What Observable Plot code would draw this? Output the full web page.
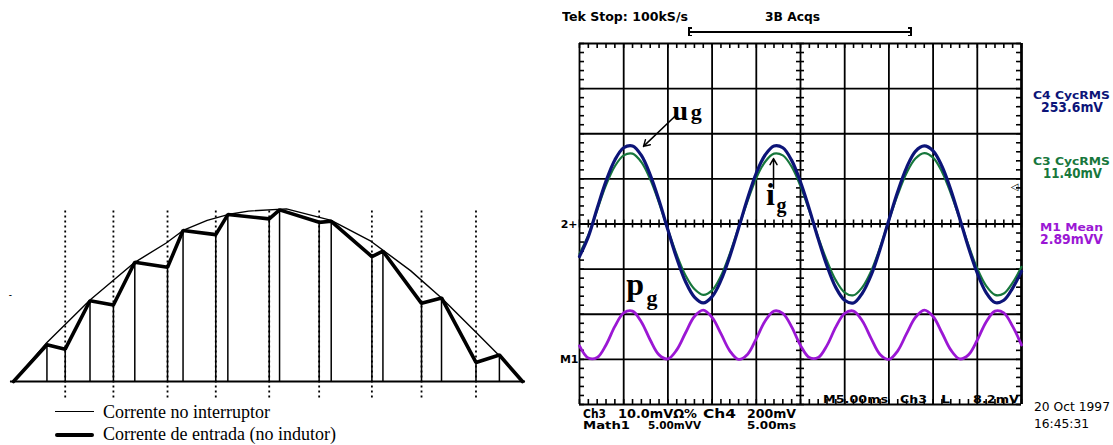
<!DOCTYPE html>
<html><head><meta charset="utf-8">
<script src="https://cdn.jsdelivr.net/npm/d3@7"></script>
<script src="https://cdn.jsdelivr.net/npm/@observablehq/plot@0.6"></script>
<style>
html,body{margin:0;padding:0;background:#fff;}
#root{position:relative;width:1113px;height:445px;overflow:hidden;background:#fff;}
#root svg{position:absolute;top:0;}
.t{position:absolute;white-space:pre;line-height:1;}
.bar{position:absolute;background:#000;}
</style></head><body><div id="root"></div>
<script>
// ===== Left figure: normalized time (0–100) and normalized current (0–1)
const thinX  = [0, 6.57, 15.03, 23.83, 29.93, 33.31, 38.05, 42.11, 46.17, 53.62, 62.42, 70.21, 78.0, 84.09, 90.86, 95.46, 100];
const thinY  = [0, 0.226, 0.471, 0.689, 0.799, 0.873, 0.931, 0.965, 0.985, 0.998, 0.931, 0.811, 0.641, 0.483, 0.284, 0.149, 0];
const thickX = [0, 6.57, 10.16, 15.03, 19.63, 23.83, 30.26, 33.31, 39.74, 42.11, 50.24, 52.27, 60.05, 62.42, 70.41, 72.58, 80.16, 84.09, 90.86, 95.46, 100];
const thickY = [0, 0.212, 0.187, 0.467, 0.442, 0.689, 0.660, 0.873, 0.849, 0.965, 0.940, 0.992, 0.920, 0.926, 0.722, 0.753, 0.452, 0.483, 0.110, 0.153, 0];
const switchX = [10.16, 19.63, 30.26, 39.74, 50.24, 60.05, 70.41, 80.16, 90.86];

// ===== Oscilloscope: time (ms) and screen divisions
const timeMs = [0,1,2,3,4,5,6,7,8,9,10,11,12,13,14,15,16,17,18,19,20,21,22,23,24,25,26,27,28,29,30,31,32,33,34,35,36,37,38,39,40,41,42,43,44,45,46,47,48,49,50];
const ugC4 = [-0.72,-0.28,0.35,0.95,1.42,1.69,1.73,1.52,1.09,0.52,-0.13,-0.76,-1.28,-1.62,-1.75,-1.61,-1.25,-0.72,-0.09,0.56,1.13,1.53,1.73,1.69,1.41,0.93,0.33,-0.33,-0.93,-1.41,-1.69,-1.75,-1.53,-1.13,-0.56,0.09,0.72,1.25,1.61,1.73,1.62,1.28,0.76,0.13,-0.52,-1.09,-1.52,-1.74,-1.69,-1.42,-1.05];
const igC3 = [-0.66,-0.25,0.31,0.86,1.28,1.52,1.56,1.37,0.99,0.47,-0.12,-0.68,-1.14,-1.44,-1.57,-1.47,-1.15,-0.66,-0.08,0.50,1.02,1.38,1.56,1.52,1.27,0.84,0.29,-0.29,-0.82,-1.25,-1.52,-1.58,-1.40,-1.04,-0.52,0.08,0.65,1.13,1.45,1.57,1.47,1.16,0.68,0.12,-0.47,-0.99,-1.37,-1.57,-1.54,-1.30,-0.95];
const pgM1 = [-2.70,-2.97,-2.96,-2.68,-2.27,-1.97,-1.93,-2.17,-2.57,-2.90,-2.99,-2.79,-2.41,-2.05,-1.91,-2.07,-2.43,-2.81,-3.00,-2.89,-2.54,-2.15,-1.93,-1.98,-2.28,-2.69,-2.96,-2.96,-2.69,-2.28,-1.98,-1.93,-2.15,-2.54,-2.89,-3.00,-2.81,-2.43,-2.07,-1.91,-2.05,-2.41,-2.79,-2.99,-2.90,-2.57,-2.17,-1.93,-1.97,-2.27,-2.68];
const majorT = [0,5,10,15,20,25,30,35,40,45,50];
const majorV = [-4,-3,-2,-1,0,1,2,3,4];
const minorT = d3.range(0, 50.001, 1);
const minorV = d3.range(-4, 4.001, 0.2);

const BLUE = "#0c1478", GREEN = "#17773c", PURPLE = "#9b17d4";
const SERIF = "Liberation Serif, Times New Roman, serif";
const TEK = "DejaVu Sans, sans-serif";

const root = document.getElementById("root");

// ---------- Left figure
const thin = thinX.map((x, i) => ({x, y: thinY[i]}));
const thick = thickX.map((x, i) => ({x, y: thickY[i]}));
const verts = thick.slice(1, -1);

const left = Plot.plot({
  width: 540, height: 445,
  marginLeft: 13, marginRight: 18, marginTop: 208, marginBottom: 64,
  x: {domain: [0, 100], axis: null},
  y: {domain: [0, 1], axis: null},
  style: {background: "none", overflow: "visible"},
  marks: [
    Plot.ruleX(switchX, {y1: -0.095, y2: 1.0, stroke: "#000", strokeWidth: 1.8, strokeDasharray: "2,3"}),
    Plot.ruleX(verts, {x: "x", y1: 0, y2: "y", stroke: "#000", strokeWidth: 1.5}),
    Plot.ruleY([0], {x1: -0.6, x2: 100.6, stroke: "#000", strokeWidth: 2}),
    Plot.line(thin, {x: "x", y: "y", stroke: "#000", strokeWidth: 1.4}),
    Plot.line(thick, {x: "x", y: "y", stroke: "#000", strokeWidth: 3.6, strokeLinejoin: "miter"}),
    Plot.text(["-"], {x: -0.6, y: 0.5, fontSize: 10, fill: "#000"})
  ]
});
left.style.left = "0px";
root.appendChild(left);

// ---------- Oscilloscope
const c4 = timeMs.map((t, i) => ({t, v: ugC4[i]}));
const c3 = timeMs.map((t, i) => ({t, v: igC3[i]}));
const m1 = timeMs.map((t, i) => ({t, v: pgM1[i]}));

const osc = Plot.plot({
  width: 553, height: 445,
  marginLeft: 19, marginRight: 92, marginTop: 43, marginBottom: 41,
  x: {domain: [0, 50], axis: null},
  y: {domain: [-4, 4], axis: null},
  style: {background: "none", overflow: "visible"},
  marks: [
    Plot.ruleX(majorT, {stroke: "#000", strokeWidth: 1.8}),
    Plot.ruleY(majorV, {stroke: "#000", strokeWidth: 1.8}),
    Plot.ruleX([50], {stroke: "#000", strokeWidth: 2.6}),
    // minor ticks along centre lines and borders
    Plot.ruleX(minorT, {y1: 0, y2: 0, insetTop: -4, insetBottom: -4, stroke: "#000", strokeWidth: 1.6}),
    Plot.ruleX(minorT, {y1: 4, y2: 4, insetTop: 0, insetBottom: -5, stroke: "#000", strokeWidth: 1.6}),
    Plot.ruleX(minorT, {y1: -4, y2: -4, insetTop: -5, insetBottom: 0, stroke: "#000", strokeWidth: 1.6}),
    Plot.ruleY(minorV, {x1: 25, x2: 25, insetLeft: -4, insetRight: -4, stroke: "#000", strokeWidth: 1.6}),
    Plot.ruleY(minorV, {x1: 0, x2: 0, insetLeft: 0, insetRight: -5, stroke: "#000", strokeWidth: 1.6}),
    Plot.ruleY(minorV, {x1: 50, x2: 50, insetLeft: -5, insetRight: 0, stroke: "#000", strokeWidth: 1.6}),
    // traces
    Plot.line(c3, {x: "t", y: "v", stroke: GREEN, strokeWidth: 2.2, curve: "catmull-rom"}),
    Plot.line(c4, {x: "t", y: "v", stroke: BLUE, strokeWidth: 3.2, curve: "catmull-rom"}),
    Plot.line(m1, {x: "t", y: "v", stroke: PURPLE, strokeWidth: 2.8, curve: "catmull-rom"}),
    // screen markers
    Plot.text(["2+"], {x: 0, y: 0, textAnchor: "end", dx: -2, fontSize: 11, fontWeight: "bold", fontFamily: TEK, fill: "#000"}),
    Plot.text(["M1"], {x: 0, y: -3, textAnchor: "end", dx: -1, fontSize: 11, fontWeight: "bold", fontFamily: TEK, fill: "#000"}),
    Plot.text(["◁"], {x: 50, y: 0.83, textAnchor: "end", dx: -3, fontSize: 10, fontWeight: "bold", fontFamily: TEK, fill: "#000"}),
    // annotations
    Plot.arrow([0], {x1: 10.86, y1: 2.40, x2: 7.24, y2: 1.72, stroke: "#000", strokeWidth: 1.5, headLength: 7}),
    Plot.arrow([0], {x1: 21.95, y1: 0.79, x2: 21.95, y2: 1.45, stroke: "#000", strokeWidth: 1.5, headLength: 7}),
    Plot.text(["u"], {x: 11.4, y: 2.50, fontSize: 28, fontWeight: "bold", fontFamily: SERIF, fill: "#000"}),
    Plot.text(["g"], {x: 13.2, y: 2.48, fontSize: 22, fontWeight: "bold", fontFamily: SERIF, fill: "#000"}),
    Plot.text(["i"], {x: 21.6, y: 0.64, fontSize: 32, fontWeight: "bold", fontFamily: SERIF, fill: "#000"}),
    Plot.text(["g"], {x: 22.85, y: 0.40, fontSize: 20, fontWeight: "bold", fontFamily: SERIF, fill: "#000"}),
    Plot.text(["p"], {x: 6.3, y: -1.35, fontSize: 32, fontWeight: "bold", fontFamily: SERIF, fill: "#000"}),
    Plot.text(["g"], {x: 8.2, y: -1.64, fontSize: 22, fontWeight: "bold", fontFamily: SERIF, fill: "#000"})
  ]
});
osc.style.left = "560px";
root.appendChild(osc);

// ---------- HTML text helpers
function put(txt, left, baseline, o) {
  const fs = o.size, asc = 0.845 * fs;
  const s = document.createElement("span");
  s.className = "t";
  s.textContent = txt;
  Object.assign(s.style, {
    fontSize: fs + "px", fontFamily: o.family || TEK, fontWeight: o.weight || "normal",
    color: o.color || "#000", left: left + "px", top: (baseline - asc) + "px",
    transformOrigin: `0px ${asc}px`
  });
  root.appendChild(s);
  const w = s.getBoundingClientRect().width;
  const sx = o.width ? o.width / w : 1;
  if (o.center !== undefined) s.style.left = (o.center - (o.width || w) / 2) + "px";
  s.style.transform = `scale(${sx}, ${o.sy || 1})`;
  return s;
}
function bar(l, t, w, h) {
  const d = document.createElement("div");
  d.className = "bar";
  Object.assign(d.style, {left: l + "px", top: t + "px", width: w + "px", height: h + "px"});
  root.appendChild(d);
}

const B = "bold";
// Oscilloscope header
put("Tek Stop: 100kS/s", 562, 21.5, {size: 11.5, weight: B, width: 126});
put("3B Acqs", 765, 21.5, {size: 11.5, weight: B, width: 55});
bar(688, 31, 224, 1.6);
bar(688, 27, 2, 9); bar(688, 27, 4, 1.5); bar(688, 34.5, 4, 1.5);
bar(910, 27, 2, 9); bar(908, 27, 4, 1.5); bar(908, 34.5, 4, 1.5);

// Right-hand readouts
put("C4 CycRMS", 0, 99, {size: 10.5, weight: B, width: 77, center: 1071.5, color: BLUE});
put("253.6mV", 0, 113, {size: 11.5, weight: B, width: 62, sy: 1.15, center: 1071.5, color: BLUE});
put("C3 CycRMS", 0, 165, {size: 10.5, weight: B, width: 77, center: 1071.5, color: GREEN});
put("11.40mV", 0, 178.5, {size: 11.5, weight: B, width: 59, sy: 1.15, center: 1072.5, color: GREEN});
put("M1 Mean", 0, 231, {size: 10.5, weight: B, width: 63, center: 1071.5, color: PURPLE});
put("2.89mVV", 0, 245, {size: 11.5, weight: B, width: 63, sy: 1.15, center: 1071.5, color: PURPLE});

// Bottom readouts
put("M5.00ms", 823, 402.5, {size: 10.5, weight: B, width: 65});
put("Ch3", 900, 402.5, {size: 10.5, weight: B, width: 27});
put("L", 941, 402.5, {size: 10.5, weight: B, width: 9});
put("8.2mV", 973, 402.5, {size: 10.5, weight: B, width: 46});
put("Ch3", 583, 418.5, {size: 12, weight: B, width: 23});
put("10.0mVΩ%", 618, 418.5, {size: 12, weight: B, width: 79});
put("Ch4", 703, 418.5, {size: 12, weight: B, width: 33});
put("200mV", 747, 418.5, {size: 12, weight: B, width: 49});
put("Math1", 583, 429, {size: 10, weight: B, width: 47});
put("5.00mVV", 648, 429, {size: 10, weight: B, width: 53});
put("5.00ms", 747, 429, {size: 10, weight: B, width: 49});
put("20 Oct 1997", 1034, 410.5, {size: 13, width: 76});
put("16:45:31", 1034, 427.5, {size: 13, width: 55});

// Left legend
bar(55, 410.5, 39, 1.6);
put("Corrente no interruptor", 103, 418, {size: 18, family: SERIF});
const tk = document.createElement("div");
Object.assign(tk.style, {position: "absolute", left: "55px", top: "432.5px", width: "39px", height: "4px", background: "#000", borderRadius: "2px"});
root.appendChild(tk);
put("Corrente de entrada (no indutor)", 103, 440, {size: 18, family: SERIF});
</script></body></html>
